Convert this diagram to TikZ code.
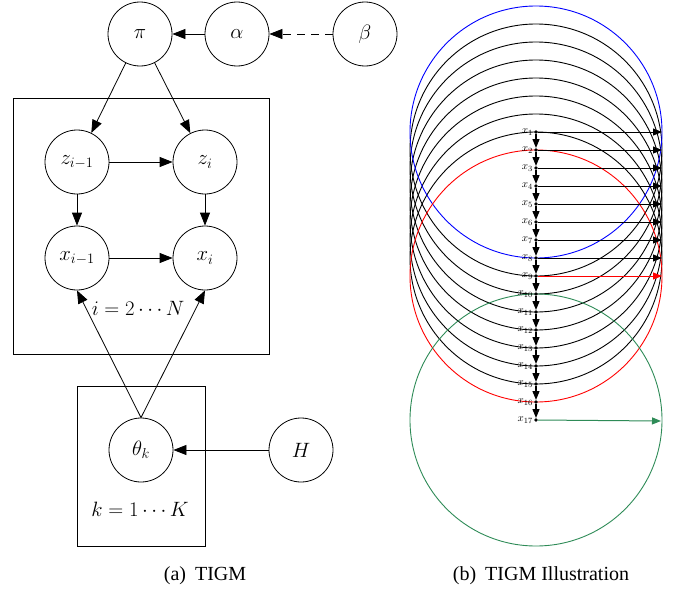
\documentclass[tikz,border=0pt]{standalone}
\usepackage{fontspec}
\setmainfont{Liberation Serif}
\usetikzlibrary{arrows.meta}
\definecolor{sgreen}{RGB}{46,139,87}
\begin{document}
\begin{tikzpicture}[x=1pt,y=-1pt,
  var/.style={circle,draw,line width=0.8pt,minimum size=64pt,inner sep=0pt,font=\fontsize{20.74}{25}\selectfont},
  plate/.style={draw,line width=0.8pt},
  edge/.style={line width=0.8pt,-{Triangle[length=13pt,width=10pt]}},
  ptnode/.style={circle,fill=black,inner sep=0pt,minimum size=3.6pt},
  ring/.style={line width=0.9pt},
  harrow/.style={line width=1pt,-{Triangle[length=9pt,width=7pt]}},
  varrow/.style={line width=1.3pt,-{Triangle[length=9pt,width=7pt]}},
  xlab/.style={font=\fontsize{11}{13}\selectfont,inner sep=1pt},
  caption/.style={font=\fontsize{20}{24}\selectfont,anchor=base}
]
\useasboundingbox (0,0) rectangle (677,589);

% ---------- (a) TIGM ----------
\draw[plate] (13,98) rectangle (269,354);
\draw[plate] (77,386) rectangle (205,546);

\node[var] (pi) at (140,34) {$\pi$};
\node[var] (alpha) at (237,34) {$\alpha$};
\node[var] (beta) at (365,34) {$\beta$};
\node[var] (zim1) at (77,162) {$z_{i-1}$};
\node[var] (zi) at (205,162) {$z_i$};
\node[var] (xim1) at (77,258) {$x_{i-1}$};
\node[var] (xi) at (205,258) {$x_i$};
\node[var] (theta) at (141,450) {$\theta_k$};
\node[var] (H) at (301,450) {$H$};

\node[font=\fontsize{20.74}{25}\selectfont] (ilab) at (138,308) {$i=2\cdots N$};
\node[font=\fontsize{20.74}{25}\selectfont] (klab) at (140,509) {$k=1\cdots K$};

\draw[edge] (alpha) -- (pi);
\draw[edge,dash pattern=on 8pt off 6pt] (beta) -- (alpha);
\draw[edge] (pi) -- (zim1);
\draw[edge] (pi) -- (zi);
\draw[edge] (zim1) -- (zi);
\draw[edge] (zim1) -- (xim1);
\draw[edge] (zi) -- (xi);
\draw[edge] (xim1) -- (xi);
\draw[edge] (theta.north) -- (xim1.south);
\draw[edge] (theta.north) -- (xi.south);
\draw[edge] (H) -- (theta);

\node[caption] (capa) at (205,580) {(a)\hspace{0.45em}TIGM};

% ---------- (b) TIGM Illustration ----------
\foreach \k in {2,...,8}
  \draw[ring,black] (536,{132+18*(\k-1)}) circle[radius=126pt];
\draw[ring,blue] (536,132) circle[radius=126pt];
\draw[ring,red] (536,276) circle[radius=126pt];
\draw[ring,sgreen] (536,420) circle[radius=126pt];

\foreach \k in {1,...,17}
  \node[ptnode,label={[xlab]left:$x_{\k}$}] (p\k) at (536,{132+18*(\k-1)}) {};

\foreach \k in {1,...,9}
  \coordinate (e\k) at (662,{132+18*(\k-1)});
\coordinate (e17) at (661,421);

\foreach \k in {1,...,8}
  \draw[harrow,black] (p\k) -- (e\k);
\draw[harrow,red] (p9) -- (e9);
\draw[harrow,sgreen] (p17) -- (e17);

\foreach \k [evaluate=\k as \n using int(\k+1)] in {1,...,16}
  \draw[varrow] (p\k) -- (p\n);

\node[caption] (capb) at (541,580) {(b)\hspace{0.45em}TIGM Illustration};
\end{tikzpicture}
\end{document}
